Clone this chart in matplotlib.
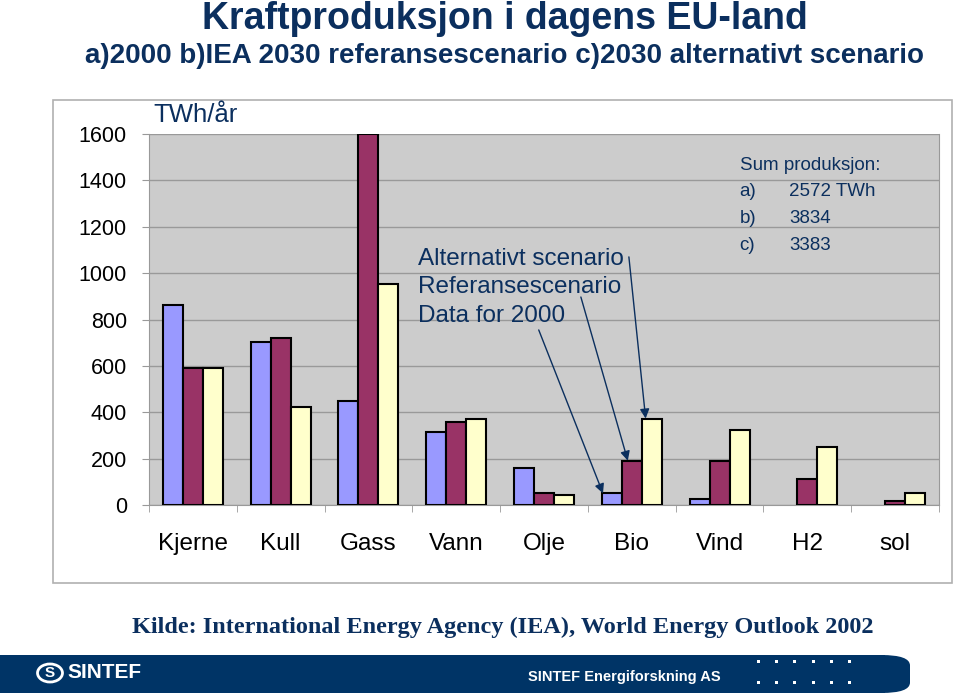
import numpy as np
import matplotlib
matplotlib.use("Agg")
import matplotlib.pyplot as plt
from matplotlib.patches import Rectangle, FancyBboxPatch, Circle

# Data (TWh/år)
kategorier = ["Kjerne", "Kull", "Gass", "Vann", "Olje", "Bio", "Vind", "H2", "sol"]
data_2000 = [862, 704, 448, 316, 158, 50, 26, 0, 0]
referanse = [590, 721, 1600, 356, 50, 191, 191, 111, 19]
alternativ = [590, 424, 953, 373, 41, 373, 323, 249, 50]
yticks = [0, 200, 400, 600, 800, 1000, 1200, 1400, 1600]
summer = [("a)", "2572 TWh"), ("b)", "3834"), ("c)", "3383")]

navy = "#0B2F5E"
plt.rcParams['font.family'] = ['Liberation Sans', 'DejaVu Sans']

fig = plt.figure(figsize=(9.6, 6.93), dpi=100)

# chart frame (behind the axes)
fig.add_artist(Rectangle((53/960, 1-583/693), (952-53)/960, (583-100)/693,
                         transform=fig.transFigure, facecolor="white",
                         edgecolor="#B0B0B0", lw=1.2, zorder=-5))

ax = fig.add_axes([149/960, 1-505/693, (939-149)/960, (505-134)/693])
ax.set_facecolor("#CCCCCC")

x = np.arange(len(kategorier))
w = 0.228
for off, vals, col in [(-w, data_2000, "#9999FF"), (0, referanse, "#993366"),
                       (w, alternativ, "#FFFFCC")]:
    lws = [1.5 if v > 0 else 0 for v in vals]
    ax.bar(x + off, vals, w, color=col, edgecolor="black", linewidth=lws, zorder=3)

ax.set_xlim(-0.5, len(kategorier) - 0.5)
ax.set_ylim(0, 1600)
ax.set_yticks(yticks)
ax.set_yticklabels([str(v) for v in yticks], fontsize=15.5)
ax.yaxis.grid(True, color="#999999", lw=1)
ax.set_axisbelow(True)
ax.set_xticks(x)
ax.set_xticklabels(kategorier, fontsize=17.5)
ax.tick_params(axis="x", length=0, pad=20)
ax.set_xticks(np.arange(-0.5, len(kategorier), 1), minor=True)
ax.tick_params(axis="x", which="minor", length=5, color="#999999")
ax.tick_params(axis="y", length=5, color="#999999", pad=11)
for s in ax.spines.values():
    s.set_color("#999999")
ax.spines["top"].set_visible(False)

# text in plot
ax.text(0.005, 1.052, "TWh/år", transform=ax.transAxes, fontsize=18.5,
        color=navy, va="center")
ax.text(2.56, 1110, "Alternativt scenario\nReferansescenario\nData for 2000",
        fontsize=17.5, color=navy, va="top", linespacing=1.38)
ax.text(6.23, 1466, "Sum produksjon:", fontsize=13.5, color=navy, va="center")
for i, (lbl, val) in enumerate(summer):
    ax.text(6.23, 1350 - i * 116, lbl, fontsize=13.5, color=navy, va="center")
    ax.text(6.79, 1350 - i * 116, val, fontsize=13.5, color=navy, va="center")

arr = dict(arrowstyle="-|>", color=navy, lw=1, mutation_scale=14,
           shrinkA=0, shrinkB=0)
ax.annotate("", xy=(5 + w - 0.07, alternativ[5]), xytext=(4.967, 1070), arrowprops=arr)
ax.annotate("", xy=(5 - 0.045, referanse[5]), xytext=(4.42, 897), arrowprops=arr)
ax.annotate("", xy=(5 - w - 0.1, data_2000[5]), xytext=(3.94, 755), arrowprops=arr)

# titles
fig.text(505/960, 1-19/693, "Kraftproduksjon i dagens EU-land", fontsize=27,
         fontweight="bold", color=navy, ha="center", va="center")
fig.text(505/960, 1-56/693, "a)2000 b)IEA 2030 referansescenario c)2030 alternativt scenario",
         fontsize=20, fontweight="bold", color=navy, ha="center", va="center")
fig.text(503/960, 1-627/693, "Kilde: International Energy Agency (IEA), World Energy Outlook 2002",
         fontsize=17.5, fontweight="bold", color=navy, ha="center", va="center",
         family=["Liberation Serif", "DejaVu Serif"])

# footer band
band = "#003466"
fig.add_artist(Rectangle((0, 0), 885/960, 38/693, transform=fig.transFigure,
                         facecolor=band, lw=0))
fig.add_artist(FancyBboxPatch((850/960, 0), 60/960, 38/693,
                              boxstyle="round,pad=0,rounding_size=0.03",
                              transform=fig.transFigure, facecolor=band, lw=0,
                              mutation_aspect=0.5))
fig.add_artist(Circle((50/960, 1-673/693), 0.013, transform=fig.transFigure,
                      facecolor="none", edgecolor="white", lw=2))
fig.text(50/960, 1-673/693, "S", fontsize=11, fontweight="bold", color="white",
         ha="center", va="center")
fig.text(67/960, 1-673/693, "SINTEF", fontsize=15, fontweight="bold", color="white",
         va="center")
fig.text(624/960, 1-677/693, "SINTEF Energiforskning AS", fontsize=10.5,
         fontweight="bold", color="white", ha="center", va="center")
dots_x = np.linspace(757, 848, 6) / 960
for dy in (663, 684):
    for dx in dots_x:
        fig.add_artist(Rectangle((dx, 1-dy/693), 3/960, 3/693,
                                 transform=fig.transFigure, facecolor="white", lw=0))

fig.savefig("out.png", dpi=100)
